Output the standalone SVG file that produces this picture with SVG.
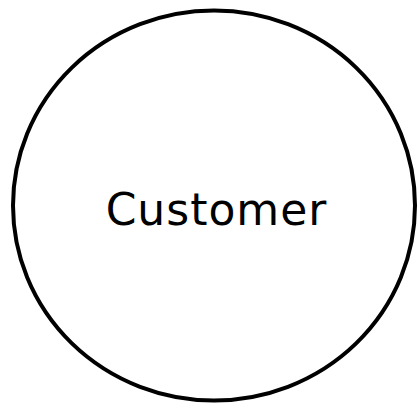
<svg xmlns="http://www.w3.org/2000/svg" width="418" height="406" viewBox="0 0 418 406">
<style>
.node{fill:#fff;stroke:#000;stroke-width:4}
.label{font-family:"DejaVu Sans",sans-serif;font-size:44px;letter-spacing:1px;fill:#000;text-anchor:middle}
</style>
<rect width="418" height="406" fill="#fff"/>
<g id="connectors"></g>
<g id="customer">
<ellipse class="node" cx="214" cy="205.5" rx="201" ry="195"/>
<text class="label" x="216.5" y="225">Customer</text>
</g>
</svg>
